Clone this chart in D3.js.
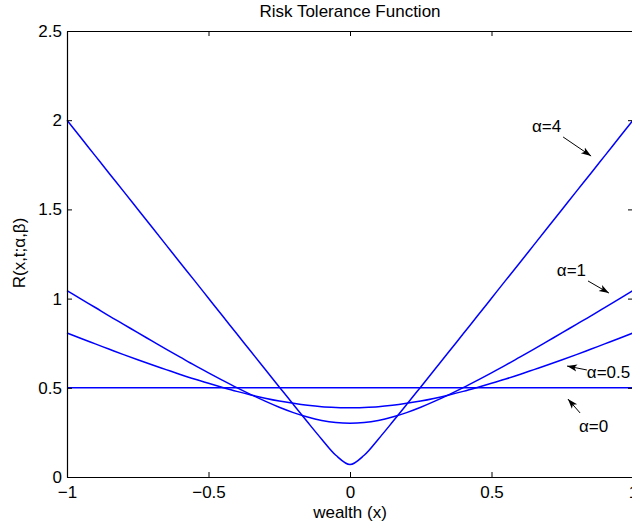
<!DOCTYPE html>
<html>
<head>
<meta charset="utf-8">
<script src="https://cdn.jsdelivr.net/npm/d3@7"></script>
<style>
  body { margin: 0; background: #fff; }
  text { font-family: "Liberation Sans", Arial, sans-serif; fill: #000; }
</style>
</head>
<body>
<div id="chart"></div>
<script>
// wealth grid
const xs = [-1, -0.95, -0.9, -0.85, -0.8, -0.75, -0.7, -0.65, -0.6, -0.55, -0.5, -0.45, -0.4, -0.35, -0.3, -0.25, -0.2, -0.15, -0.1, -0.05,
  0, 0.05, 0.1, 0.15, 0.2, 0.25, 0.3, 0.35, 0.4, 0.45, 0.5, 0.55, 0.6, 0.65, 0.7, 0.75, 0.8, 0.85, 0.9, 0.95, 1];

// risk tolerance values
const alpha4 = [2.000, 1.900, 1.800, 1.700, 1.601, 1.501, 1.401, 1.301, 1.201, 1.102, 1.002, 0.902, 0.803, 0.703, 0.604, 0.505, 0.406, 0.308, 0.212, 0.122,
  0.070, 0.122, 0.212, 0.308, 0.406, 0.505, 0.604, 0.703, 0.803, 0.902, 1.002, 1.102, 1.201, 1.301, 1.401, 1.501, 1.601, 1.700, 1.800, 1.900, 2.000];
const alpha1 = [1.045, 0.997, 0.950, 0.902, 0.856, 0.809, 0.763, 0.717, 0.672, 0.627, 0.584, 0.542, 0.501, 0.462, 0.425, 0.391, 0.361, 0.336, 0.317, 0.305,
  0.301, 0.305, 0.317, 0.336, 0.361, 0.391, 0.425, 0.462, 0.501, 0.542, 0.584, 0.627, 0.672, 0.717, 0.763, 0.809, 0.856, 0.902, 0.950, 0.997, 1.045];
const alpha05 = [0.807, 0.776, 0.746, 0.716, 0.686, 0.657, 0.629, 0.602, 0.575, 0.549, 0.525, 0.502, 0.480, 0.460, 0.442, 0.426, 0.413, 0.402, 0.394, 0.390,
  0.388, 0.390, 0.394, 0.402, 0.413, 0.426, 0.442, 0.460, 0.480, 0.502, 0.525, 0.549, 0.575, 0.602, 0.629, 0.657, 0.686, 0.716, 0.746, 0.776, 0.807];
const alpha0 = xs.map(() => 0.5);

const xTicks = [-1, -0.5, 0, 0.5, 1];
const yTicks = [0, 0.5, 1, 1.5, 2, 2.5];

const series = [alpha4, alpha1, alpha05, alpha0];

// annotation labels: [text, textX, textY, arrow from (x1,y1) to (x2,y2)] in data units
const notes = [
  ["α=4", 0.643, 1.934, 0.753, 1.906, 0.852, 1.799],
  ["α=1", 0.731, 1.127, 0.841, 1.099, 0.915, 1.031],
  ["α=0.5", 0.837, 0.555, 0.837, 0.600, 0.767, 0.622],
  ["α=0", 0.809, 0.252, 0.813, 0.359, 0.770, 0.437]
];

const W = 632, H = 527;
const svg = d3.select('#chart').append('svg')
  .attr('width', W)
  .attr('height', H);

const x = d3.scaleLinear().domain([-1, 1]).range([67, 633]);
const y = d3.scaleLinear().domain([0, 2.5]).range([477, 31]);

svg.append('defs').append('marker')
  .attr('id', 'head')
  .attr('viewBox', '0 0 10 10')
  .attr('refX', 10).attr('refY', 5)
  .attr('markerWidth', 10).attr('markerHeight', 10)
  .attr('markerUnits', 'userSpaceOnUse')
  .attr('orient', 'auto')
  .append('path')
  .attr('d', 'M0,1.5 L10,5 L0,8.5 L2.5,5 Z')
  .attr('fill', '#000');

// curves
const line = d3.line()
  .x((d, i) => x(xs[i]))
  .y(d => y(d))
  .curve(d3.curveCatmullRom);

svg.selectAll('.curve')
  .data(series)
  .enter().append('path')
  .attr('class', 'curve')
  .attr('d', line)
  .attr('fill', 'none')
  .attr('stroke', '#0000ff')
  .attr('stroke-width', 1.5);

// axes box with inward ticks
svg.append('g').attr('transform', 'translate(0,477)')
  .call(d3.axisBottom(x).tickValues(xTicks).tickSizeInner(-5).tickSizeOuter(0).tickPadding(9)
    .tickFormat(d => d3.format('')(d).replace('-', '\u2212')));
svg.append('g').attr('transform', 'translate(0,31)')
  .call(d3.axisTop(x).tickValues(xTicks).tickSizeInner(-5).tickSizeOuter(0).tickFormat(''));
svg.append('g').attr('transform', 'translate(67,0)')
  .call(d3.axisLeft(y).tickValues(yTicks).tickSizeInner(-5).tickSizeOuter(0).tickPadding(5)
    .tickFormat(d3.format('')));
svg.append('g').attr('transform', 'translate(633,0)')
  .call(d3.axisRight(y).tickValues(yTicks).tickSizeInner(-5).tickSizeOuter(0).tickFormat(''));

svg.selectAll('.domain').attr('stroke', '#000').attr('stroke-width', 1.2);
svg.selectAll('.tick line').attr('stroke', '#000');
svg.selectAll('.tick text').style('font-size', '17px').attr('fill', '#000');

// titles
svg.append('text').attr('x', 350).attr('y', 17).attr('text-anchor', 'middle')
  .style('font-size', '17px').text('Risk Tolerance Function');
svg.append('text').attr('x', 350).attr('y', 518).attr('text-anchor', 'middle')
  .style('font-size', '17px').text('wealth (x)');
svg.append('text').attr('transform', 'translate(25,253) rotate(-90)').attr('text-anchor', 'middle')
  .style('font-size', '17px').text('R(x,t;α,β)');

// annotations
const ann = svg.append('g');
notes.forEach(n => {
  ann.append('text').attr('x', x(n[1])).attr('y', y(n[2]))
    .style('font-size', '17px').text(n[0]);
  ann.append('line')
    .attr('x1', x(n[3])).attr('y1', y(n[4]))
    .attr('x2', x(n[5])).attr('y2', y(n[6]))
    .attr('stroke', '#000').attr('stroke-width', 1)
    .attr('marker-end', 'url(#head)');
});
</script>
</body>
</html>
